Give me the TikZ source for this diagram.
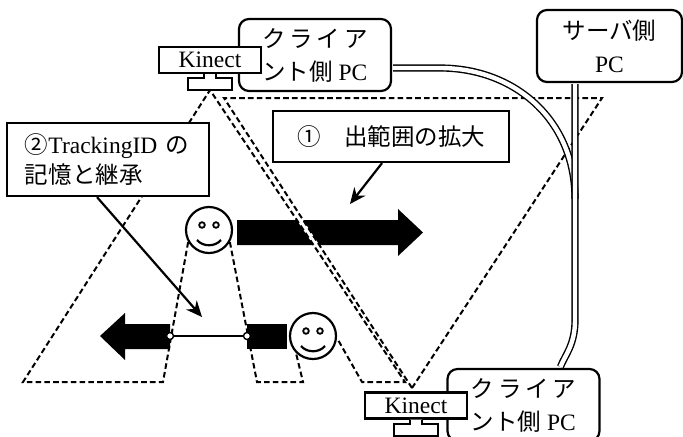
\documentclass[tikz,border=0pt]{standalone}
\usepackage{fontspec}
\setmainfont{Liberation Serif}
\newfontfamily\jp{Noto Sans CJK JP}
\usetikzlibrary{positioning, arrows.meta}

\tikzset{
    pcbox/.style={draw, line width=1.1pt, rounded corners=5pt, fill=white,
        minimum width=76pt, minimum height=36pt, align=left, inner sep=2pt},
    camera/.style={draw, line width=1.1pt, fill=white,
        minimum width=51pt, minimum height=13pt, inner sep=0pt},
    notebox/.style={draw, line width=1.1pt, fill=white, align=left},
    fov/.style={line width=1pt, dash pattern=on 2.8pt off 1.6pt},
    cable/.style={line width=0.7pt, double, double distance=2.2pt,
        shorten <=0.55pt, shorten >=0.55pt},
    pointer/.style={line width=1.1pt, -{Stealth[length=8pt, width=7pt]}},
    user/.style={draw, circle, line width=1.1pt, fill=white,
        minimum size=23pt, inner sep=0pt},
    joint/.style={draw, circle, line width=0.7pt, fill=white,
        minimum size=3.5pt, inner sep=0pt},
}

\begin{document}
\begin{tikzpicture}[x=0.5pt, y=-0.5pt, font=\fontsize{11.75}{16.5}\selectfont]
    \useasboundingbox (0,0) rectangle (683,436);

    % apexes of the two camera views
    \coordinate (apexA) at (210,90);
    \coordinate (apexB) at (412,388);
    \coordinate (tipA) at (350,204);
    \coordinate (tipB) at (202,317);

    % movement arrows
    \fill (237,220) -- (398,220) -- (398,209) -- (423,232.5)
        -- (398,256) -- (398,245) -- (237,245) -- cycle;
    \fill (170,324) -- (125,324) -- (125,313) -- (100,336)
        -- (125,360) -- (125,349) -- (170,349) -- cycle;
    \fill (247,324) rectangle (287,349);

    % the two people
    \node[user] (userA) at (209,230) {};
    \node[user] (userB) at (313,336) {};
    \foreach \u in {userA, userB} {
        \begin{scope}[shift={(\u.center)}]
            \draw[line width=0.9pt] (-7,-5) circle[radius=1.4pt] (7,-5) circle[radius=1.4pt];
            \draw[line width=1.1pt] (-12,10) .. controls (-6,17) and (6,17) .. (12,10);
        \end{scope}
    }

    % views of the cameras
    \fill[white] (apexA) -- (224,98) -- (apexB) -- (405,382) -- cycle;
    \draw[fov] (userA.210) -- (163,382) -- (23,382) -- (apexA) -- (405,382)
        -- (362,382) -- (userB.355);
    \draw[fov] (userA.330) -- (257,382) -- (303,382) -- (userB.225);
    \draw[fov] (apexB) -- (224,98) -- (602,98) -- cycle;

    % ID handed over between the two people
    \node[joint] (jointL) at (170,336) {};
    \node[joint] (jointR) at (247,336) {};
    \draw[line width=0.8pt] (jointL) -- (jointR);

    % PCs and Kinects
    \node[pcbox] (pcA) at (315,55) {{\jp ク\,ラ\,イ\,ア}\\{\jp ント側} PC};
    \node[pcbox] (pcB) at (523.5,405) {{\jp ク\,ラ\,イ\,ア}\\{\jp ント側} PC};
    \node[pcbox, align=center, minimum width=72.5pt] (srv) at (609.5,46) {{\jp サーバ側}\\PC};
    \node[camera] (camA) at (210,60) {Kinect};
    \node[camera] (camB) at (416,405.5) {Kinect};
    \foreach \c in {camA, camB}
        \draw[line width=1.1pt, fill=white, shift={(\c.south)}] (-6,0) -- (-6,4)
            -- (-22,4) -- (-22,16) -- (22,16) -- (22,4) -- (6,4) -- (6,0);

    % network cables
    \draw[cable] ([yshift=-6.5pt]pcA.east) -- (440,68)
        .. controls (515,68) and (575,120) .. (575,200);
    \draw[cable] ([xshift=-17.25pt]srv.south) -- (575,320)
        .. controls (575,345) and (565,355) .. ([xshift=18.25pt]pcB.north);

    % notes
    \node[notebox, minimum width=118pt, minimum height=25.5pt, align=center] (noteA)
        at (391,136.5) {{\jp ①　出範囲の拡大}};
    \node[notebox, text width=83pt, inner xsep=9pt, minimum height=36.5pt,
        font=\fontsize{11.75}{15}\selectfont] (noteB)
        at (108,159.5) {{\jp ②}TrackingID {\jp の}\\{\jp 記憶と継承}};
    \draw[pointer] ([xshift=-4.5pt]noteA.south) -- (tipA);
    \draw[pointer] ([xshift=-5.5pt]noteB.south) -- (tipB);
\end{tikzpicture}
\end{document}
